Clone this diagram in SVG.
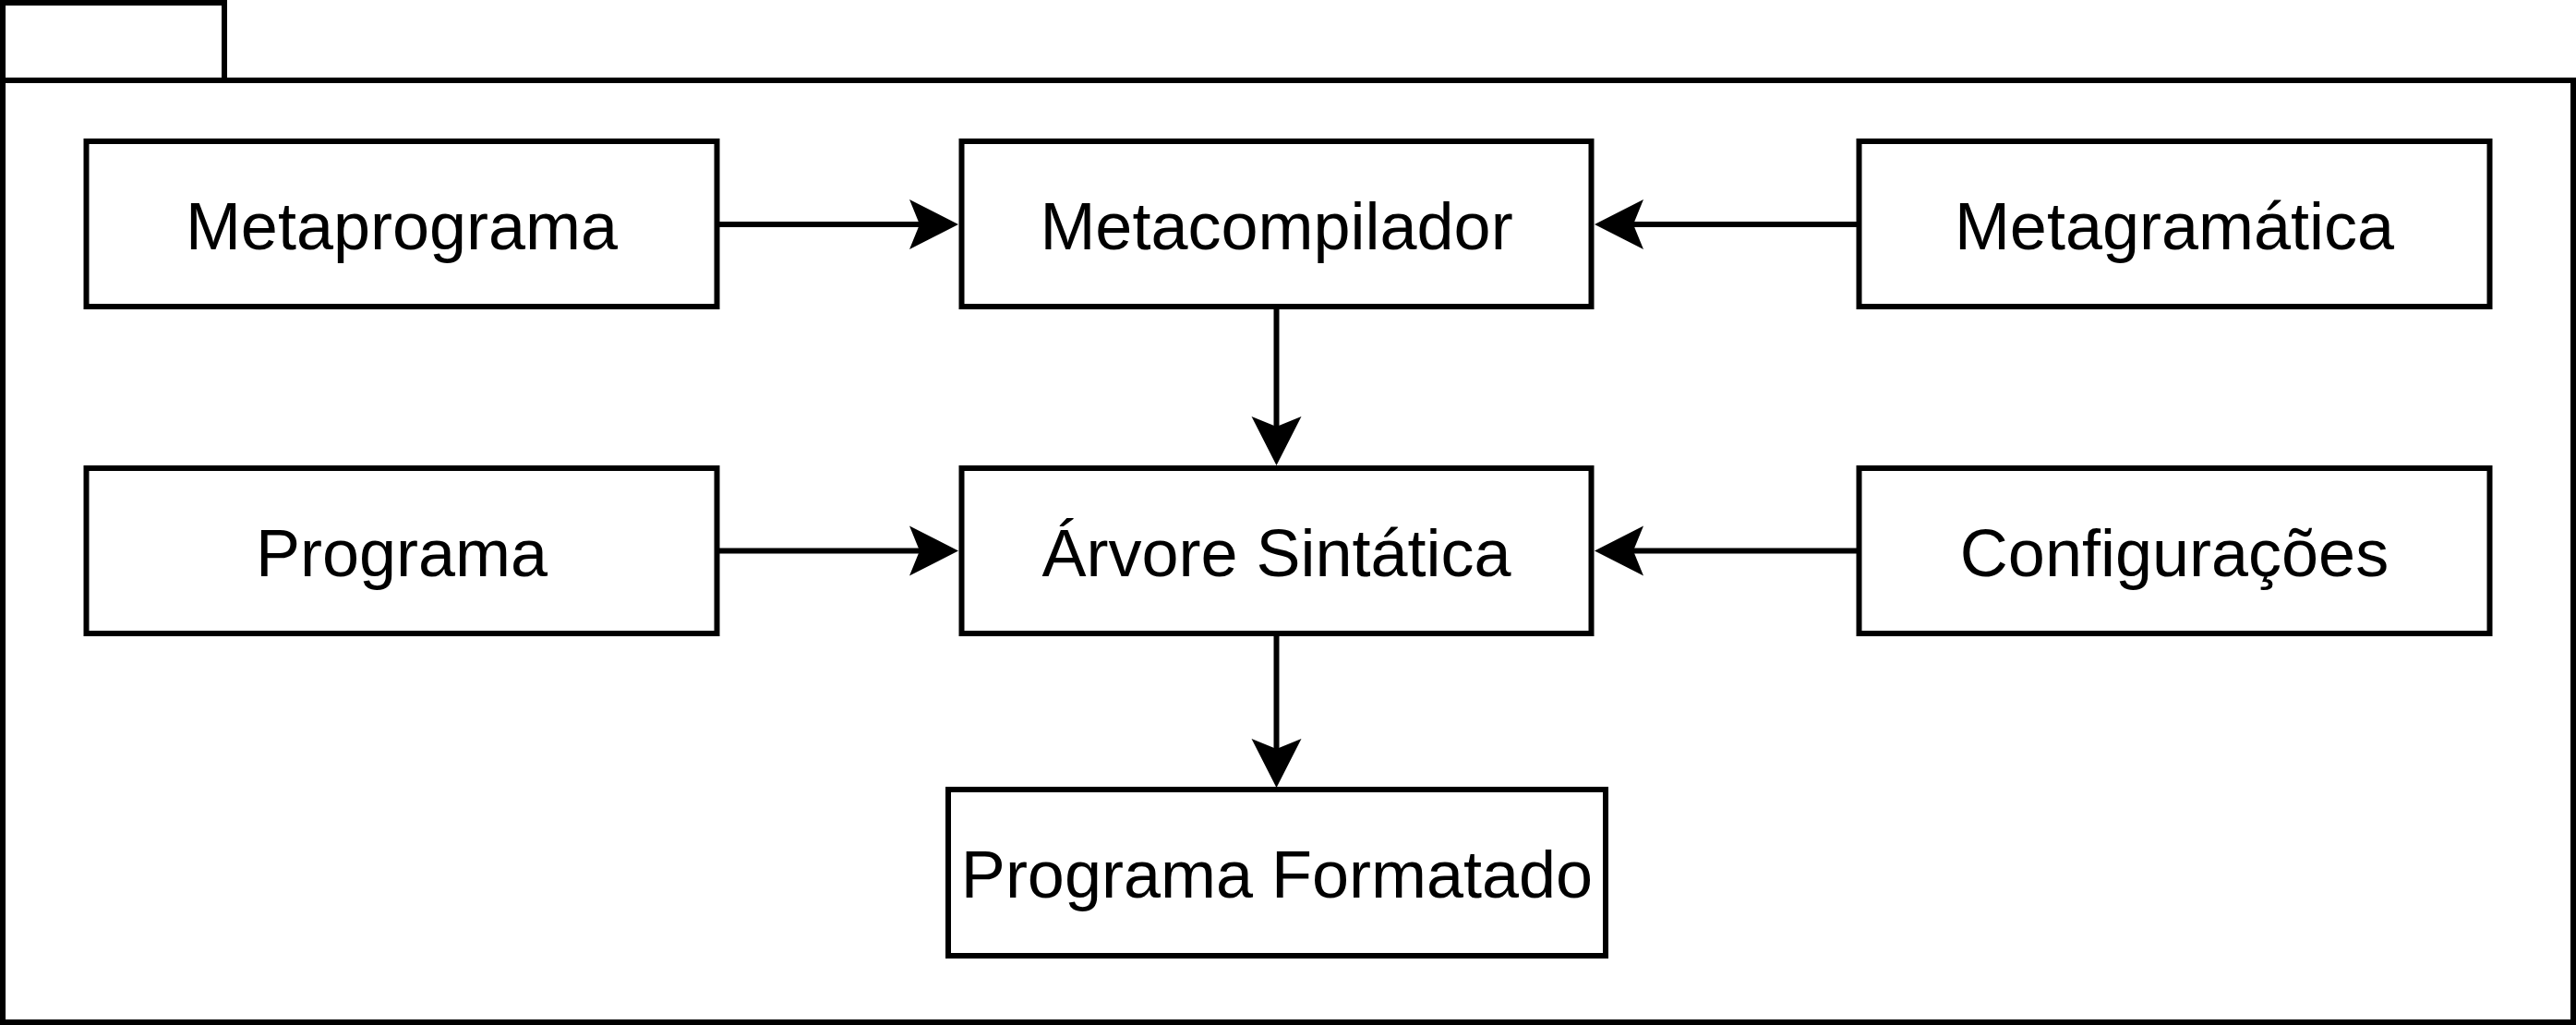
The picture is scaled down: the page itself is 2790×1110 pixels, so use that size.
<svg xmlns="http://www.w3.org/2000/svg" width="2790" height="1110" viewBox="0 0 2790 1110">
<style>
.box{fill:#ffffff;stroke:#000000;stroke-width:6}
.lbl{font-family:"Liberation Sans",Arial,sans-serif;font-size:72px;fill:#000000;text-anchor:middle}
.edge{stroke:#000000;stroke-width:6;fill:none}
</style>
<defs>
<marker id="arr" markerUnits="userSpaceOnUse" markerWidth="120" markerHeight="120" refX="0" refY="0" orient="auto" overflow="visible" viewBox="-60 -60 120 120">
<path d="M42,0 L-11,-27 L0,0 L-11,27 Z" fill="#000000" stroke="none"/>
</marker>
</defs>
<rect width="2790" height="1110" fill="#ffffff"/>
<g id="package">
<path class="box" d="M3,87 L3,3 L243,3 L243,87"/>
<rect class="box" x="3" y="87" width="2784" height="1020"/>
</g>
<g id="connectors">
<line class="edge" x1="776" y1="243" x2="996" y2="243" marker-end="url(#arr)"/>
<line class="edge" x1="2013" y1="243" x2="1769" y2="243" marker-end="url(#arr)"/>
<line class="edge" x1="776" y1="596.5" x2="996" y2="596.5" marker-end="url(#arr)"/>
<line class="edge" x1="2013" y1="596.5" x2="1769" y2="596.5" marker-end="url(#arr)"/>
<line class="edge" x1="1382.5" y1="332" x2="1382.5" y2="462" marker-end="url(#arr)"/>
<line class="edge" x1="1382.5" y1="686" x2="1382.5" y2="811" marker-end="url(#arr)"/>
</g>
<g id="metaprograma">
<rect class="box" x="93.5" y="153" width="683" height="179"/>
<text class="lbl" x="435" y="270">Metaprograma</text>
</g>
<g id="metacompilador">
<rect class="box" x="1041.5" y="153" width="682" height="179"/>
<text class="lbl" x="1382.5" y="270">Metacompilador</text>
</g>
<g id="metagramatica">
<rect class="box" x="2013.5" y="153" width="683" height="179"/>
<text class="lbl" x="2355" y="270">Metagramática</text>
</g>
<g id="programa">
<rect class="box" x="93.5" y="507" width="683" height="179"/>
<text class="lbl" x="435" y="623.5">Programa</text>
</g>
<g id="arvore">
<rect class="box" x="1041.5" y="507" width="682" height="179"/>
<text class="lbl" x="1382.5" y="623.5">Árvore Sintática</text>
</g>
<g id="configuracoes">
<rect class="box" x="2013.5" y="507" width="683" height="179"/>
<text class="lbl" x="2355" y="623.5">Configurações</text>
</g>
<g id="programa-formatado">
<rect class="box" x="1027" y="855" width="712" height="180"/>
<text class="lbl" x="1383" y="972">Programa Formatado</text>
</g>
</svg>
